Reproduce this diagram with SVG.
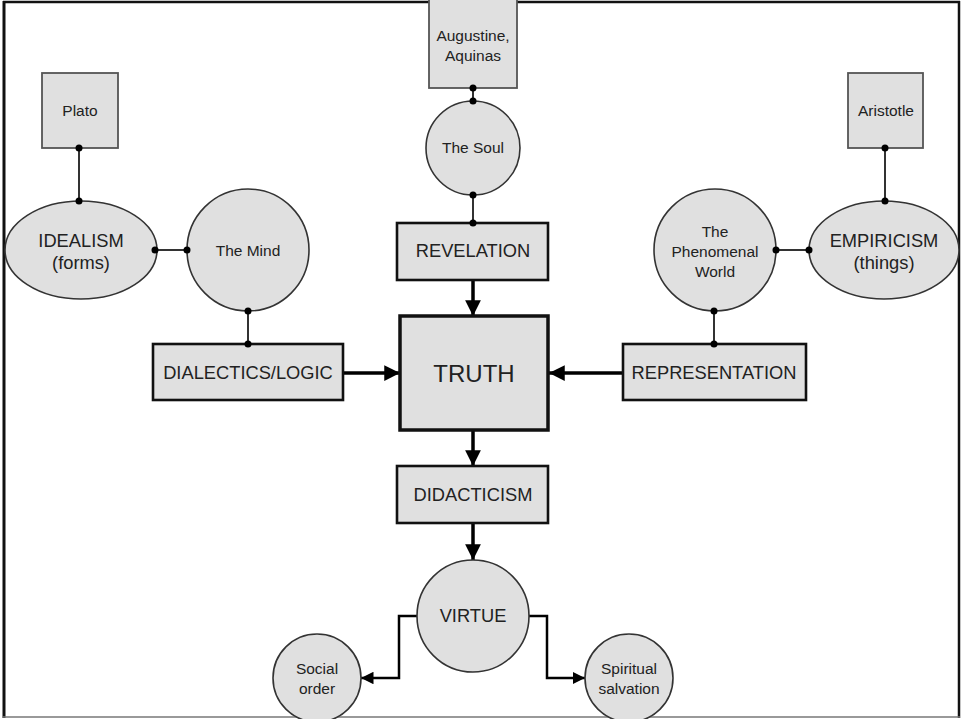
<svg xmlns="http://www.w3.org/2000/svg" width="961" height="719" viewBox="0 0 961 719">
<style>
text{font-family:"Liberation Sans",Arial,sans-serif;fill:#222;text-anchor:middle;dominant-baseline:central}
.sm{font-size:15.5px}
.md{font-size:18.3px}
.bg{font-size:24px}
.node{fill:#e0e0e0;stroke:#333;stroke-width:1.6}
.phil{fill:#e0e0e0;stroke:#555;stroke-width:1.8}
.main{fill:#e0e0e0;stroke:#111;stroke-width:2.6}
.truth{fill:#e0e0e0;stroke:#111;stroke-width:3.5}
.link{stroke:#333;stroke-width:2;fill:none}
.arr{stroke:#000;stroke-width:3.5;fill:none;marker-end:url(#ah)}
.arr2{stroke:#000;stroke-width:2.5;fill:none;marker-end:url(#ah2)}
.dot{fill:#000}
</style>
<defs>
<marker id="ah" viewBox="0 0 10 10" refX="10" refY="5" markerWidth="4.5" markerHeight="4.5" markerUnits="strokeWidth" orient="auto"><path d="M0,0 L10,5 L0,10 z" fill="#000"/></marker>
<marker id="ah2" viewBox="0 0 10 10" refX="10" refY="5" markerWidth="5" markerHeight="5" markerUnits="strokeWidth" orient="auto"><path d="M0,0 L10,5 L0,10 z" fill="#000"/></marker>
</defs>
<rect width="961" height="719" fill="#fff"/>
<g id="frame">
<line x1="3" y1="2" x2="960" y2="2" stroke="#111" stroke-width="2.5"/>
<line x1="4" y1="1" x2="4" y2="718" stroke="#111" stroke-width="3"/>
<line x1="959" y1="1" x2="959" y2="718" stroke="#111" stroke-width="2.5"/>
<line x1="3" y1="717" x2="960" y2="717" stroke="#777" stroke-width="1.5"/>
</g>
<g id="connectors">
<line class="link" x1="79" y1="148" x2="79" y2="201"/>
<line class="link" x1="155" y1="250" x2="187" y2="250"/>
<line class="link" x1="248" y1="311" x2="248" y2="344"/>
<line class="link" x1="473" y1="88" x2="473" y2="101"/>
<line class="link" x1="473" y1="195" x2="473" y2="223"/>
<line class="link" x1="885" y1="148" x2="885" y2="201"/>
<line class="link" x1="776" y1="250" x2="809" y2="250"/>
<line class="link" x1="714" y1="311" x2="714" y2="344"/>
<line class="arr" x1="343" y1="373" x2="400" y2="373"/>
<line class="arr" x1="623" y1="373" x2="549" y2="373"/>
<line class="arr" x1="473" y1="281" x2="473" y2="316"/>
<line class="arr" x1="473" y1="431" x2="473" y2="466"/>
<line class="arr" x1="473" y1="524" x2="473" y2="560"/>
<polyline class="arr2" points="417,616 399,616 399,678 361,678"/>
<polyline class="arr2" points="529,616 547,616 547,678 585,678"/>
</g>
<g id="plato"><rect class="phil" x="42" y="73" width="76" height="75"/><text class="sm" x="80" y="110">Plato</text></g>
<g id="idealism"><ellipse class="node" cx="81" cy="250" rx="76" ry="49"/><text class="md" x="81" y="240">IDEALISM</text><text class="md" x="81" y="262">(forms)</text></g>
<g id="mind"><circle class="node" cx="248" cy="250" r="61"/><text class="sm" x="248" y="250">The Mind</text></g>
<g id="dialectics"><rect class="main" x="153" y="344" width="190" height="56"/><text class="md" x="248" y="372">DIALECTICS/LOGIC</text></g>
<g id="augustine"><rect class="phil" x="429" y="-2" width="88" height="90"/><text class="sm" x="473" y="35">Augustine,</text><text class="sm" x="473" y="55">Aquinas</text></g>
<g id="soul"><circle class="node" cx="473" cy="148" r="47"/><text class="sm" x="473" y="147">The Soul</text></g>
<g id="revelation"><rect class="main" x="397" y="223" width="151" height="57"/><text class="md" x="473" y="250">REVELATION</text></g>
<g id="truth"><rect class="truth" x="400" y="316" width="148" height="114"/><text class="bg" x="474" y="373">TRUTH</text></g>
<g id="aristotle"><rect class="phil" x="848" y="73" width="75" height="75"/><text class="sm" x="886" y="110">Aristotle</text></g>
<g id="empiricism"><ellipse class="node" cx="884" cy="250" rx="75" ry="49"/><text class="md" x="884" y="240">EMPIRICISM</text><text class="md" x="884" y="262">(things)</text></g>
<g id="phenomenal"><circle class="node" cx="715" cy="250" r="61"/><text class="sm" x="715" y="231">The</text><text class="sm" x="715" y="251">Phenomenal</text><text class="sm" x="715" y="271">World</text></g>
<g id="representation"><rect class="main" x="623" y="344" width="183" height="56"/><text class="md" x="714" y="372">REPRESENTATION</text></g>
<g id="didacticism"><rect class="main" x="397" y="466" width="151" height="57"/><text class="md" x="473" y="494">DIDACTICISM</text></g>
<g id="virtue"><circle class="node" cx="473" cy="616" r="56"/><text class="md" x="473" y="615">VIRTUE</text></g>
<g id="social"><circle class="node" cx="317" cy="678" r="44"/><text class="sm" x="317" y="668">Social</text><text class="sm" x="317" y="688">order</text></g>
<g id="spiritual"><circle class="node" cx="629" cy="678" r="44"/><text class="sm" x="629" y="668">Spiritual</text><text class="sm" x="629" y="688">salvation</text></g>
<g id="connector-dots" class="dot">
<circle cx="79" cy="148" r="3.5"/><circle cx="79" cy="201" r="3.5"/>
<circle cx="155" cy="250" r="3.5"/><circle cx="187" cy="250" r="3.5"/>
<circle cx="248" cy="311" r="3.5"/><circle cx="248" cy="344" r="3.5"/>
<circle cx="473" cy="88" r="3.5"/><circle cx="473" cy="101" r="3.5"/>
<circle cx="473" cy="195" r="3.5"/><circle cx="473" cy="223" r="3.5"/>
<circle cx="885" cy="148" r="3.5"/><circle cx="885" cy="201" r="3.5"/>
<circle cx="776" cy="250" r="3.5"/><circle cx="809" cy="250" r="3.5"/>
<circle cx="714" cy="311" r="3.5"/><circle cx="714" cy="344" r="3.5"/>
</g>
</svg>
